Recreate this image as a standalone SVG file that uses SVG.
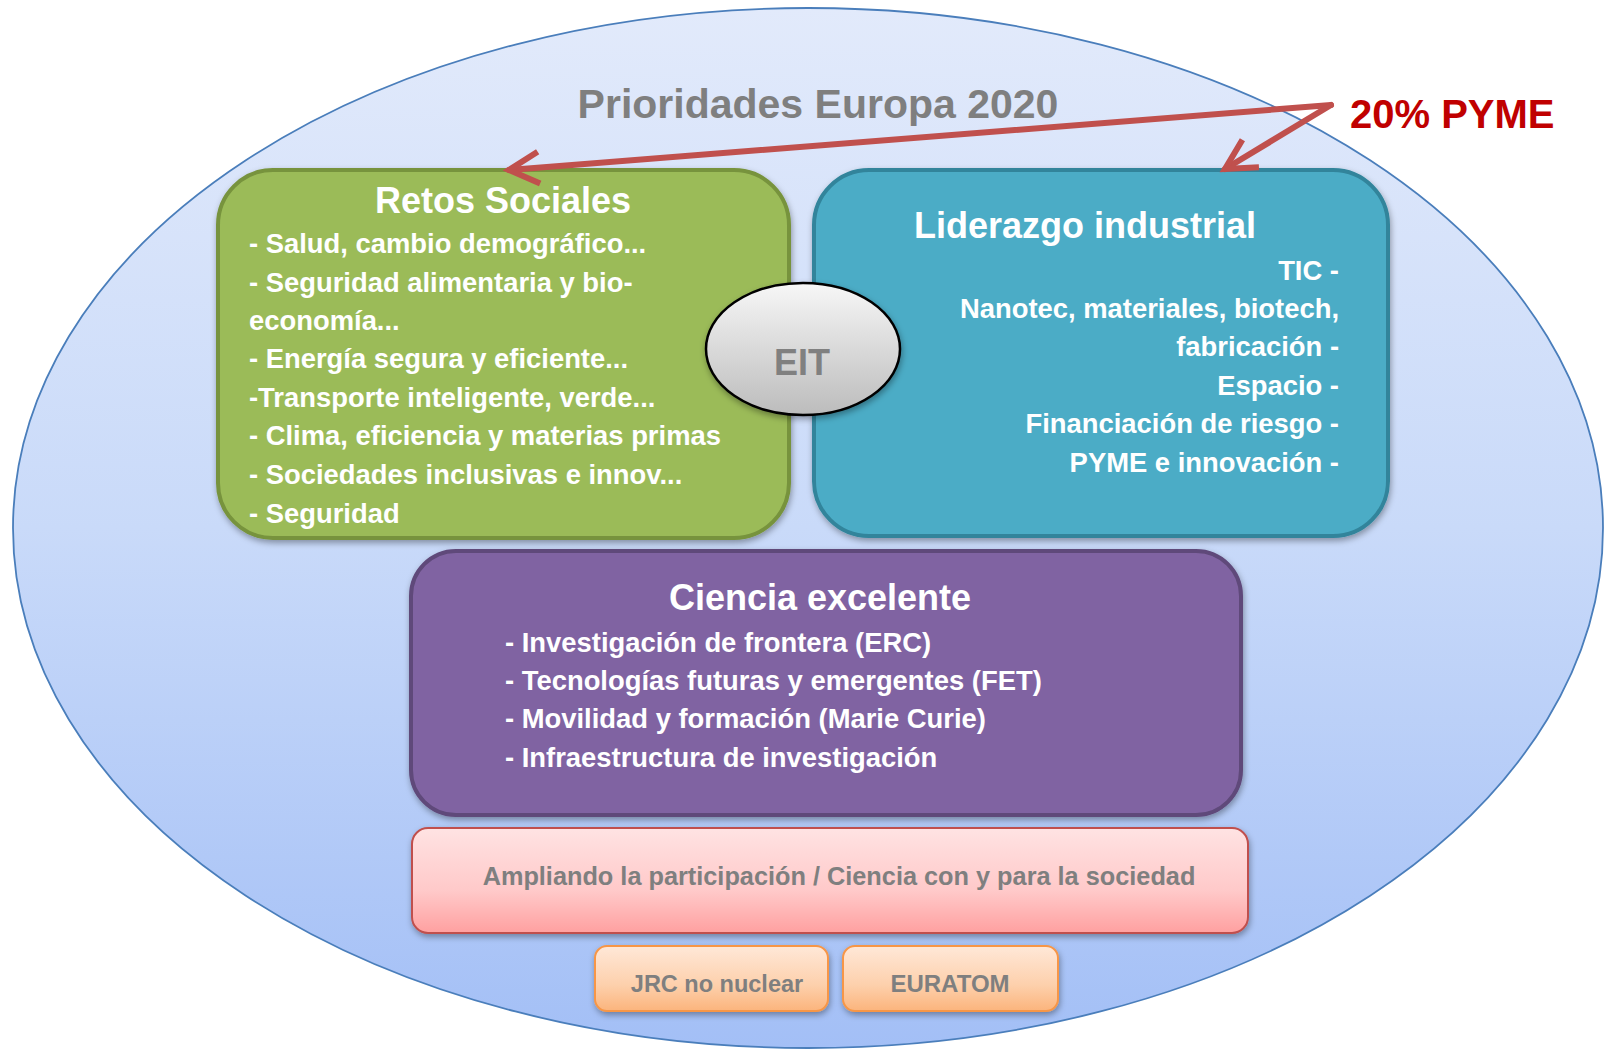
<svg xmlns="http://www.w3.org/2000/svg" width="1608" height="1051" viewBox="0 0 1608 1051">
<style>
text{font-family:"Liberation Sans",Arial,sans-serif;font-weight:bold}
.w{fill:#ffffff}
.g{fill:#7f7f7f}
.t{font-size:36px}
.b{font-size:27.4px}
.conn{stroke:#c0504d;stroke-width:6;fill:none;stroke-linecap:round}
</style>
<defs>
<linearGradient id="bg" x1="0" y1="0" x2="0" y2="1">
<stop offset="0" stop-color="#e2eafb"/>
<stop offset="0.5" stop-color="#c9daf9"/>
<stop offset="1" stop-color="#a3bff6"/>
</linearGradient>
<linearGradient id="pink" x1="0" y1="0" x2="0" y2="1">
<stop offset="0" stop-color="#ffe3e3"/>
<stop offset="0.6" stop-color="#ffc9c9"/>
<stop offset="1" stop-color="#ffa0a0"/>
</linearGradient>
<linearGradient id="orange" x1="0" y1="0" x2="0" y2="1">
<stop offset="0" stop-color="#ffe8d8"/>
<stop offset="0.6" stop-color="#fdd0ac"/>
<stop offset="1" stop-color="#fbb47c"/>
</linearGradient>
<linearGradient id="grey" x1="0" y1="0" x2="0" y2="1">
<stop offset="0" stop-color="#f7f7f7"/>
<stop offset="1" stop-color="#bcbcbc"/>
</linearGradient>
<filter id="sh" x="-10%" y="-10%" width="120%" height="130%">
<feDropShadow dx="1" dy="3" stdDeviation="3" flood-color="#000" flood-opacity="0.35"/>
</filter>
<marker id="chev" markerUnits="userSpaceOnUse" viewBox="-40 -25 50 50" markerWidth="50" markerHeight="50" refX="0" refY="0" orient="auto">
<path d="M-30,-16 L0,0 L-30,16" fill="none" stroke="#c0504d" stroke-width="6" stroke-linejoin="miter" stroke-linecap="butt"/>
</marker>
</defs>
<rect width="1608" height="1051" fill="#ffffff"/>
<g id="background">
<ellipse cx="808" cy="528" rx="795" ry="520" fill="url(#bg)" stroke="#4a7ebb" stroke-width="1.8"/>
<text x="818" y="118" text-anchor="middle" class="g" font-size="41">Prioridades Europa 2020</text>
</g>
<g id="retos-sociales">
<rect x="218" y="170" width="571" height="368" rx="55" ry="55" fill="#9bbb59" stroke="#77933c" stroke-width="4" filter="url(#sh)"/>
<text x="503" y="213" text-anchor="middle" class="w t">Retos Sociales</text>
<text class="w b" x="249" y="253">- Salud, cambio demográfico...</text>
<text class="w b" x="249" y="292">- Seguridad alimentaria y bio-</text>
<text class="w b" x="249" y="330">economía...</text>
<text class="w b" x="249" y="368">- Energía segura y eficiente...</text>
<text class="w b" x="249" y="407">-Transporte inteligente, verde...</text>
<text class="w b" x="249" y="445">- Clima, eficiencia y materias primas</text>
<text class="w b" x="249" y="484">- Sociedades inclusivas e innov...</text>
<text class="w b" x="249" y="523">- Seguridad</text>
</g>
<g id="liderazgo-industrial">
<rect x="814" y="170" width="574" height="366" rx="55" ry="55" fill="#4bacc6" stroke="#31849b" stroke-width="4" filter="url(#sh)"/>
<text x="1085" y="238" text-anchor="middle" class="w t">Liderazgo industrial</text>
<text class="w b" x="1339" y="280" text-anchor="end">TIC -</text>
<text class="w b" x="1339" y="318" text-anchor="end">Nanotec, materiales, biotech,</text>
<text class="w b" x="1339" y="356" text-anchor="end">fabricación -</text>
<text class="w b" x="1339" y="395" text-anchor="end">Espacio -</text>
<text class="w b" x="1339" y="433" text-anchor="end">Financiación de riesgo -</text>
<text class="w b" x="1339" y="472" text-anchor="end">PYME e innovación -</text>
</g>
<g id="eit">
<ellipse cx="803" cy="349" rx="97" ry="66" fill="url(#grey)" stroke="#000000" stroke-width="2.5" filter="url(#sh)"/>
<text x="802" y="375" text-anchor="middle" font-size="36" fill="#808080">EIT</text>
</g>
<g id="ciencia-excelente">
<rect x="411" y="551" width="830" height="264" rx="45" ry="45" fill="#8064a2" stroke="#5f497a" stroke-width="4" filter="url(#sh)"/>
<text x="820" y="610" text-anchor="middle" class="w t">Ciencia excelente</text>
<text class="w b" x="505" y="652">- Investigación de frontera (ERC)</text>
<text class="w b" x="505" y="690">- Tecnologías futuras y emergentes (FET)</text>
<text class="w b" x="505" y="728">- Movilidad y formación (Marie Curie)</text>
<text class="w b" x="505" y="767">- Infraestructura de investigación</text>
</g>
<g id="ampliando">
<rect x="412" y="828" width="836" height="105" rx="16" ry="16" fill="url(#pink)" stroke="#c0504d" stroke-width="2" filter="url(#sh)"/>
<text x="839" y="885" text-anchor="middle" class="g" font-size="25.3">Ampliando la participación / Ciencia con y para la sociedad</text>
</g>
<g id="jrc">
<rect x="595" y="946" width="233" height="65" rx="12" ry="12" fill="url(#orange)" stroke="#f79646" stroke-width="2" filter="url(#sh)"/>
<text x="717" y="992" text-anchor="middle" class="g" font-size="23.5">JRC no nuclear</text>
</g>
<g id="euratom">
<rect x="843" y="946" width="215" height="65" rx="12" ry="12" fill="url(#orange)" stroke="#f79646" stroke-width="2" filter="url(#sh)"/>
<text x="950" y="992" text-anchor="middle" class="g" font-size="24">EURATOM</text>
</g>
<g id="pyme">
<text x="1350" y="128" font-size="40" fill="#c00000">20% PYME</text>
</g>
<g id="connectors">
<path class="conn" d="M1331,105 L509,170" marker-end="url(#chev)"/>
<path class="conn" d="M1331,105 L1225,169" marker-end="url(#chev)"/>
</g>
</svg>
